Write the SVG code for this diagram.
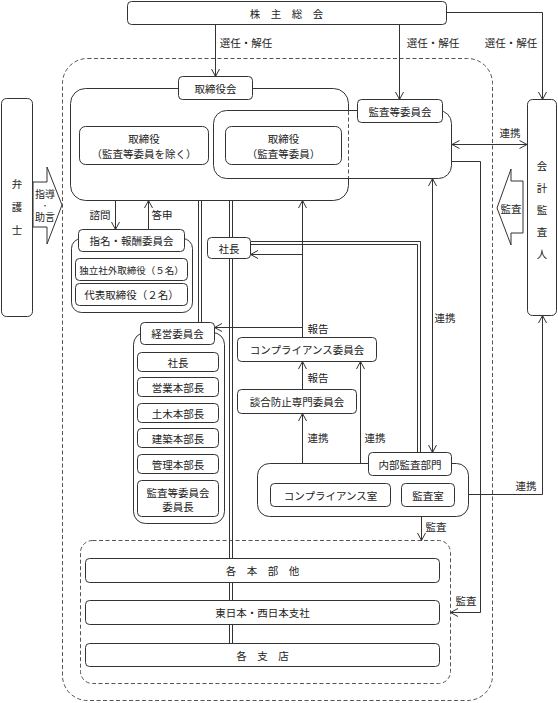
<svg xmlns="http://www.w3.org/2000/svg" width="558" height="703" viewBox="0 0 558 703">
<defs>
<style>
.b{fill:#fff;stroke:#333;stroke-width:1}
.g{fill:none;stroke:#333;stroke-width:1}
.n{fill:none;stroke:#333;stroke-width:1}
.d{fill:none;stroke:#555;stroke-width:1;stroke-dasharray:4 2.5}
.t{font-family:"Noto Sans CJK JP","Noto Sans CJK SC",sans-serif;font-size:10.5px;fill:#222;text-anchor:middle;dominant-baseline:central}
.ar{marker-end:url(#a)}
.ar2{marker-start:url(#a);marker-end:url(#a)}
</style>
<marker id="a" markerUnits="userSpaceOnUse" markerWidth="10" markerHeight="10" viewBox="0 0 10 10" refX="9.5" refY="5" orient="auto-start-reverse"><path d="M2,1 L9.5,5 L2,9" fill="none" stroke="#333" stroke-width="1"/></marker>
</defs>
<rect width="558" height="703" fill="#fff"/>

<g id="company-boundary"><rect class="d" x="62.5" y="58.5" width="430" height="642" rx="25"/></g>
<g id="operations-boundary"><rect class="d" x="80.5" y="540.5" width="370" height="143" rx="12"/></g>

<g id="connectors">
<path class="n ar" d="M215.5,24.5 V76.5"/>
<path class="n ar" d="M399.5,24.5 V99.5"/>
<path class="n ar" d="M446.5,12.5 H542.5 V99.5"/>
<path class="n ar2" d="M452,144.5 H527"/>
<path class="n ar" d="M244.5,178.5 V193.5 H144.5 V164.5"/>
<path class="n ar" d="M115.5,200.5 V229.5"/>
<path class="n ar" d="M148.5,229.5 V200.5"/>
<path class="n" d="M198.5,200.5 V322.5 M201.5,200.5 V322.5"/>
<path class="n" d="M229.5,200.5 V643.5 M232.5,200.5 V643.5"/>
<path class="n ar" d="M302.5,337.5 V200.5"/>
<path class="n ar" d="M302.5,254.5 H250.5"/>
<path class="n ar" d="M302.5,327.5 H214.5"/>
<path class="n" d="M250.5,241.5 H420.5 V452.5 M250.5,244.5 H417.5 V452.5"/>
<path class="n ar2" d="M432.5,178.5 V452.5"/>
<path class="n ar" d="M302.5,389.5 V361.5"/>
<path class="n ar2" d="M302.5,413.5 V483.5"/>
<path class="n ar2" d="M360.5,361.5 V483.5"/>
<path class="n ar2" d="M542.5,315.5 V494.5 H454.5"/>
<path class="n ar" d="M421.5,516.5 V540.5"/>
<path class="n ar" d="M451.5,161.5 H480.5 V612.5 H450.5"/>
<text class="t" x="246" y="42">選任・解任</text>
<text class="t" x="433" y="42">選任・解任</text>
<text class="t" x="511" y="42">選任・解任</text>
<text class="t" x="510" y="132">連携</text>
<text class="t" x="127" y="182">監督</text>
<text class="t" x="100" y="214">諮問</text>
<text class="t" x="162" y="214">答申</text>
<text class="t" x="318" y="328">報告</text>
<text class="t" x="318" y="377">報告</text>
<text class="t" x="445" y="317">連携</text>
<text class="t" x="318" y="437">連携</text>
<text class="t" x="375" y="437">連携</text>
<text class="t" x="526" y="485">連携</text>
<text class="t" x="436" y="526">監査</text>
<text class="t" x="466" y="600">監査</text>
</g>

<g id="shareholders"><rect class="b" x="127.5" y="1.5" width="319" height="23" rx="4"/><text class="t" x="286.5" y="13">株　主　総　会</text></g>

<g id="board">
<rect class="b" x="70.5" y="88.5" width="278" height="112" rx="15"/>
</g>
<g id="audit-committee">
<rect class="g" x="213.5" y="110.5" width="238" height="68" rx="13"/>
<line x1="348.5" y1="111.5" x2="348.5" y2="177.5" stroke="#fff" stroke-width="2"/>
<line class="d" x1="348.5" y1="111" x2="348.5" y2="178"/>
</g>
<g id="board-label"><rect class="b" x="178.5" y="76.5" width="74" height="23" rx="4"/><text class="t" x="215.5" y="88">取締役会</text></g>
<g id="audit-committee-label"><rect class="b" x="357.5" y="99.5" width="85" height="23" rx="4"/><text class="t" x="400" y="111">監査等委員会</text></g>
<g id="directors"><rect class="b" x="79.5" y="126.5" width="129" height="38" rx="6"/><text class="t" x="144" y="138">取締役</text><text class="t" x="144" y="153">（監査等委員を除く）</text></g>
<g id="audit-directors"><rect class="b" x="225.5" y="126.5" width="116" height="38" rx="6"/><text class="t" x="283.5" y="138">取締役</text><text class="t" x="283.5" y="153">（監査等委員）</text></g>

<g id="nomination-committee">
<rect class="b" x="71.5" y="238.5" width="121" height="74" rx="10"/>
<rect class="b" x="78.5" y="229.5" width="106" height="22" rx="4"/><text class="t" x="131.5" y="240.5">指名・報酬委員会</text>
<rect class="b" x="75.5" y="258.5" width="112" height="22" rx="4"/><text class="t" x="131.5" y="269.5" style="font-size:9.5px">独立社外取締役（５名）</text>
<rect class="b" x="75.5" y="283.5" width="112" height="22" rx="4"/><text class="t" x="131.5" y="294.5">代表取締役（２名）</text>
</g>

<g id="president"><rect class="b" x="207.5" y="237.5" width="43" height="21" rx="4"/><text class="t" x="229" y="248">社長</text></g>

<g id="management-committee">
<rect class="b" x="133.5" y="332.5" width="91" height="191" rx="12"/>
<rect class="b" x="140.5" y="322.5" width="74" height="22" rx="4"/><text class="t" x="177.5" y="333.5">経営委員会</text>
<rect class="b" x="137.5" y="352.5" width="81" height="19" rx="4"/><text class="t" x="178" y="362">社長</text>
<rect class="b" x="137.5" y="377.5" width="81" height="19" rx="4"/><text class="t" x="178" y="387">営業本部長</text>
<rect class="b" x="137.5" y="403.5" width="81" height="19" rx="4"/><text class="t" x="178" y="413">土木本部長</text>
<rect class="b" x="137.5" y="428.5" width="81" height="19" rx="4"/><text class="t" x="178" y="438">建築本部長</text>
<rect class="b" x="137.5" y="454.5" width="81" height="19" rx="4"/><text class="t" x="178" y="464">管理本部長</text>
<rect class="b" x="137.5" y="480.5" width="81" height="36" rx="4"/><text class="t" x="178" y="492">監査等委員会</text><text class="t" x="178" y="506">委員長</text>
</g>

<g id="compliance-committee"><rect class="b" x="237.5" y="337.5" width="139" height="24" rx="4"/><text class="t" x="307" y="349.5">コンプライアンス委員会</text></g>
<g id="anti-collusion-committee"><rect class="b" x="237.5" y="389.5" width="119" height="24" rx="4"/><text class="t" x="297" y="401.5">談合防止専門委員会</text></g>

<g id="internal-audit">
<rect class="b" x="257.5" y="463.5" width="211" height="53" rx="12"/>
<rect class="b" x="368.5" y="452.5" width="83" height="23" rx="4"/><text class="t" x="410" y="464">内部監査部門</text>
<rect class="b" x="270.5" y="483.5" width="120" height="23" rx="4"/><text class="t" x="330.5" y="495">コンプライアンス室</text>
<rect class="b" x="401.5" y="483.5" width="53" height="23" rx="4"/><text class="t" x="428" y="495">監査室</text>
</g>

<g id="headquarters"><rect class="b" x="85.5" y="558.5" width="354" height="24" rx="4"/><text class="t" x="262.5" y="570.5">各　本　部　他</text></g>
<g id="branch-offices"><rect class="b" x="85.5" y="600.5" width="354" height="24" rx="4"/><text class="t" x="262.5" y="612.5">東日本・西日本支社</text></g>
<g id="branches"><rect class="b" x="85.5" y="643.5" width="354" height="23" rx="4"/><text class="t" x="262.5" y="655">各　支　店</text></g>

<g id="lawyer"><rect class="b" x="1.5" y="98.5" width="31" height="218" rx="5"/><text class="t" x="17" y="183">弁</text><text class="t" x="17" y="206">護</text><text class="t" x="17" y="229">士</text></g>
<g id="guidance-arrow"><polygon class="b" points="33,182 47,182 47,167 62,205 47,244 47,227 33,227"/><text class="t" x="45" y="193.5" style="font-size:10px">指導</text><text class="t" x="45" y="205" style="font-size:6.5px">・</text><text class="t" x="45" y="216.5" style="font-size:10px">助言</text></g>

<g id="auditor"><rect class="b" x="527.5" y="99.5" width="29" height="216" rx="5"/><text class="t" x="542" y="165">会</text><text class="t" x="542" y="187">計</text><text class="t" x="542" y="209">監</text><text class="t" x="542" y="231">査</text><text class="t" x="542" y="253">人</text></g>
<g id="audit-arrow"><polygon class="b" points="523,181 511,181 511,169 497,208 511,245 511,233 523,233"/><text class="t" x="511" y="208">監査</text></g>
</svg>
